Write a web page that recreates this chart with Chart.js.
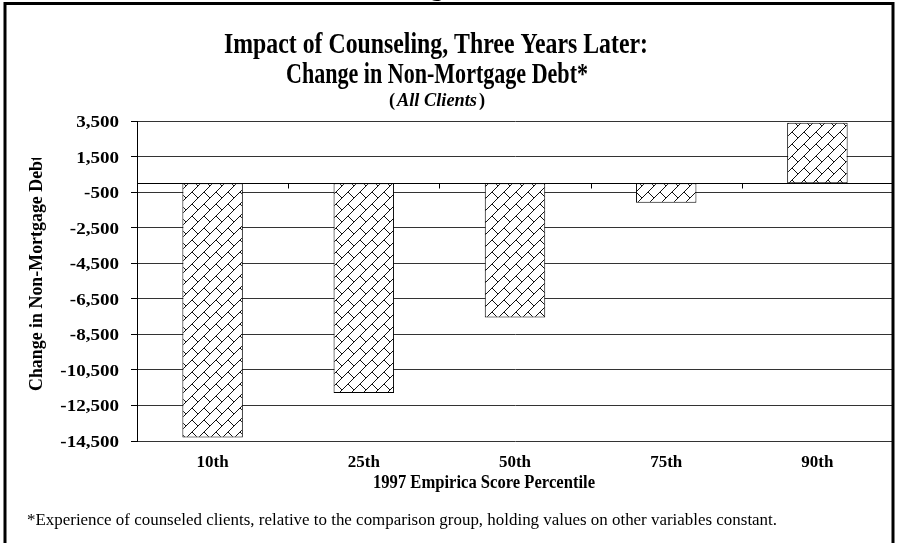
<!DOCTYPE html>
<html>
<head>
<meta charset="utf-8">
<script src="https://cdn.jsdelivr.net/npm/chart.js@4"></script>
<style>
  html, body { margin: 0; padding: 0; background: #fff; }
  #wrap { width: 899px; height: 543px; position: relative; }
</style>
</head>
<body>
<div id="wrap"><canvas id="myChart" width="899" height="543"></canvas></div>
<script>
const categories = ['10th', '25th', '50th', '75th', '90th'];
const debtChange = [-14300, -11800, -7550, -1100, 3400];
const yTickValues = [3500, 1500, -500, -2500, -4500, -6500, -8500, -10500, -12500, -14500];

const titleLines = ['Impact of Counseling, Three Years Later:', 'Change in Non-Mortgage Debt*'];
const xTitle = '1997 Empirica Score Percentile';
const yTitle = 'Change in Non-Mortgage Debt';
const footnote = '*Experience of counseled clients, relative to the comparison group, holding values on other variables constant.';

const ctx = document.getElementById('myChart').getContext('2d');
const SERIF = '"Liberation Serif", "Times New Roman", serif';

// brick / weave hatch used by the bars
function weavePattern() {
  const T = 24;
  const c = document.createElement('canvas');
  c.width = T; c.height = T;
  const g = c.getContext('2d');
  g.fillStyle = '#fff';
  g.fillRect(0, 0, T, T);
  g.strokeStyle = '#111';
  g.lineWidth = 1;
  const H = T / (2 * Math.SQRT2), L = 2 * H;
  const P = (u, v) => [(u + v) / Math.SQRT2, (v - u) / Math.SQRT2];
  g.beginPath();
  for (let j = -6; j <= 6; j++) {
    g.moveTo(...P(-60, j * H));
    g.lineTo(...P(60, j * H));
    for (let i = -6; i <= 6; i++) {
      const u = i * L + (j & 1) * L / 2;
      g.moveTo(...P(u, j * H));
      g.lineTo(...P(u, (j + 1) * H));
    }
  }
  g.stroke();
  return ctx.createPattern(c, 'repeat');
}

// draw text squeezed / stretched horizontally
function drawText(c, s, x, y, font, opt) {
  opt = opt || {};
  c.save();
  c.font = font;
  const w = c.measureText(s).width;
  const k = opt.width ? opt.width / w : (opt.k || 1);
  c.translate(x, y);
  c.scale(k, 1);
  c.textAlign = opt.align || 'center';
  c.textBaseline = opt.baseline || 'alphabetic';
  c.fillStyle = '#000';
  c.fillText(s, 0, 0);
  c.restore();
}

const decorations = {
  id: 'decorations',
  afterDatasetsDraw(chart) {
    const c = chart.ctx;
    const x = chart.scales.x, y = chart.scales.y;
    const a = chart.chartArea;
    const y0 = Math.round(y.getPixelForValue(0)) + 0.5;
    c.save();
    // zero line
    c.strokeStyle = '#000';
    c.lineWidth = 1;
    c.beginPath();
    c.moveTo(a.left, y0);
    c.lineTo(a.right, y0);
    // category tick marks on the zero line
    for (let i = 0; i <= categories.length; i++) {
      let px;
      if (i === 0) px = a.left;
      else if (i === categories.length) px = a.right;
      else px = (x.getPixelForValue(i - 1) + x.getPixelForValue(i)) / 2;
      px = Math.round(px) + 0.5;
      c.moveTo(px, y0);
      c.lineTo(px, y0 + 5);
    }
    c.stroke();
    // right border of plot area
    c.strokeStyle = '#888';
    c.beginPath();
    c.moveTo(Math.round(a.right) - 0.5, a.top);
    c.lineTo(Math.round(a.right) - 0.5, a.bottom);
    c.stroke();
    c.restore();
  },
  afterDraw(chart) {
    const c = chart.ctx;
    const x = chart.scales.x, y = chart.scales.y;

    // y tick labels
    y.ticks.forEach(t => {
      drawText(c, t.value.toLocaleString('en-US'), 119, y.getPixelForValue(t.value) + 6,
        'bold 17px ' + SERIF, { align: 'right', k: 1.12 });
    });
    // x category labels
    x.getLabels().forEach((lab, i) => {
      drawText(c, lab, x.getPixelForValue(i), 467, 'bold 17px ' + SERIF, { k: 1.0 });
    });

    c.save();
    // outer frame
    c.strokeStyle = '#000';
    c.lineWidth = 3;
    c.beginPath();
    c.moveTo(5, 560);
    c.lineTo(5, 3.5);
    c.lineTo(893, 3.5);
    c.lineTo(893, 560);
    c.stroke();
    c.restore();

    // cut-off text above the frame
    drawText(c, 'g', 437, -4, 'bold 26px ' + SERIF);

    // titles
    drawText(c, titleLines[0], 436, 53, 'bold 29px ' + SERIF, { width: 424 });
    drawText(c, titleLines[1], 437, 83, 'bold 29px ' + SERIF, { width: 302 });
    // (All Clients)
    c.save();
    c.fillStyle = '#000';
    c.textBaseline = 'alphabetic';
    const f1 = 'bold 19px ' + SERIF, f2 = 'bold italic 19px ' + SERIF;
    c.font = f1;
    const pw = c.measureText('(').width;
    c.font = f2;
    const iw = c.measureText('All Clients').width;
    const gap = 2;
    const total = pw * 2 + iw + gap * 2;
    const want = 96;
    const k = want / total;
    c.translate(437 - want / 2, 106);
    c.scale(k, 1);
    c.font = f1;
    c.fillText('(', 0, 0);
    c.font = f2;
    c.fillText('All Clients', pw + gap, 0);
    c.font = f1;
    c.fillText(')', pw + iw + gap * 2, 0);
    c.restore();

    // axis titles
    drawText(c, xTitle, 484, 488, 'bold 18px ' + SERIF, { width: 222 });
    c.save();
    c.beginPath();
    c.rect(0, 158, 120, 400);
    c.clip();
    c.translate(42, 391);
    c.rotate(-Math.PI / 2);
    drawText(c, yTitle, 0, 0, 'bold 18px ' + SERIF, { width: 236, align: 'left' });
    c.restore();

    // footnote
    drawText(c, footnote, 27, 525, '16px ' + SERIF, { width: 750, align: 'left' });
  }
};

const myChart = new Chart(ctx, {
  type: 'bar',
  data: {
    labels: categories,
    datasets: [
      {
        label: 'Change in Non-Mortgage Debt',
        data: debtChange,
        backgroundColor: weavePattern(),
        borderColor: '#000',
        borderWidth: 1,
        borderSkipped: false,
        barPercentage: 0.4,
        categoryPercentage: 1,
      },
    ],
  },
  options: {
    responsive: false,
    animation: false,
    devicePixelRatio: 1,
    layout: { padding: { top: 121, right: 6, bottom: 0, left: 0 } },
    plugins: {
      legend: { display: false },
      tooltip: { enabled: false },
    },
    scales: {
      x: {
        grid: { display: false, drawTicks: false },
        border: { display: false },
        ticks: { display: false },
        afterFit(scale) { scale.height = 102; },
      },
      y: {
        min: -14500,
        max: 3500,
        afterBuildTicks(scale) {
          scale.ticks = yTickValues.map(v => ({ value: v }));
        },
        grid: { color: '#333', lineWidth: 1, tickLength: 6, tickColor: '#000' },
        border: { display: true, color: '#000', width: 1 },
        ticks: { display: false },
        afterFit(scale) { scale.width = 137; },
      },
    },
  },
  plugins: [decorations],
});
</script>
</body>
</html>
